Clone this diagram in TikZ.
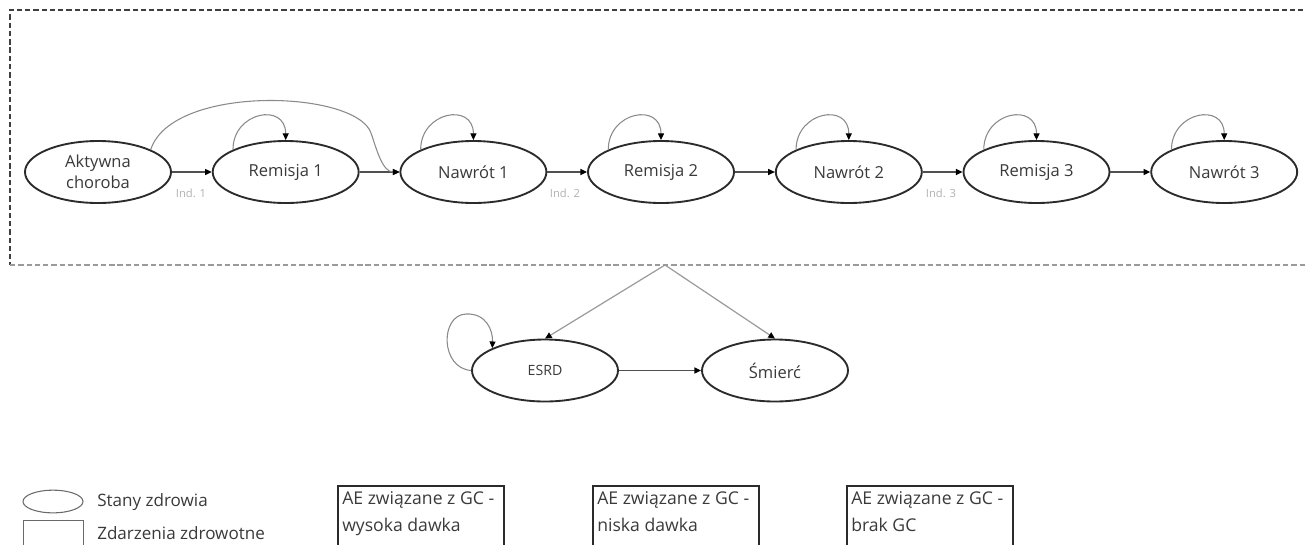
\documentclass[tikz,border=0pt]{standalone}
\usepackage{fontspec}
\setmainfont{Open Sans}
\usetikzlibrary{shapes.geometric,arrows.meta}
\definecolor{ink}{HTML}{2B2B2B}
\definecolor{txt}{HTML}{3A3A3A}
\definecolor{flowc}{HTML}{505050}
\definecolor{loopc}{HTML}{8A8A8A}
\definecolor{diagc}{HTML}{9A9A9A}
\definecolor{indc}{HTML}{B0B0B0}
\definecolor{legc}{HTML}{6A6A6A}
\newcommand\stfont{\fontsize{12.4}{16.5}\selectfont}
\newcommand\smallstfont{\fontsize{10.6}{12}\selectfont}
\newcommand\bxfont{\fontsize{13.2}{20.25}\selectfont}
\newcommand\lgfont{\fontsize{12.8}{15}\selectfont}
\newcommand\indfont{\fontsize{8.4}{10}\selectfont}
\begin{document}
\begin{tikzpicture}[x=0.75pt,y=-0.75pt,
  state/.style={ellipse,draw=ink,line width=1.4pt,fill=white,minimum width=109.5pt,minimum height=46.5pt,inner sep=0pt,text=txt,font=\stfont,align=center},
  tip/.style={-{Triangle[length=5pt,width=4.5pt,color=black]}},
  flow/.style={draw=flowc,line width=0.9pt,tip},
  selfloop/.style={draw=loopc,line width=0.8pt,tip},
  bigarc/.style={draw=loopc,line width=0.8pt,tip},
  diag/.style={draw=diagc,line width=0.9pt,tip},
  indl/.style={font=\indfont,text=indc,inner sep=0pt},
  evbox/.style={draw=ink,line width=1.2pt,anchor=north west,minimum width=124.5pt,minimum height=60pt,inner sep=0pt},
  evtext/.style={anchor=north west,inner sep=0pt,align=left,font=\bxfont,text=txt},
  lgtext/.style={anchor=west,inner sep=0pt,font=\lgfont,text=txt},
  frametop/.style={draw=ink!90,line width=1pt,dash pattern=on 4pt off 2.2pt},
  framebot/.style={draw=diagc,line width=1pt,dash pattern=on 4pt off 2.2pt}
]
\useasboundingbox (0,0) rectangle (1306,544);
\clip (0,0) rectangle (1306,544);

% dashed frame
\coordinate (ftr) at (1320,10);
\coordinate (ftl) at (10,10);
\coordinate (fbl) at (10,265);
\coordinate (fbr) at (1320,265);
\coordinate (apex) at (665,265);
\draw[frametop] (ftr) -- (ftl) -- (fbl);
\draw[framebot] (fbl) -- (fbr);

% states
\node[state] (ak) at (98,172) {Aktywna\\[-1pt]choroba};
\node[state] (r1) at (285.7,172) {Remisja 1};
\node[state] (n1) at (473.4,172) {Nawrót 1};
\node[state] (r2) at (661,172) {Remisja 2};
\node[state] (n2) at (848.8,172) {Nawrót 2};
\node[state] (r3) at (1036.5,172) {Remisja 3};
\node[state] (n3) at (1224.2,172) {Nawrót 3};

% horizontal transitions
\draw[flow] (ak.east) -- (r1.west);
\draw[flow] (r1.east) -- (n1.west);
\draw[flow] (n1.east) -- (r2.west);
\draw[flow] (r2.east) -- (n2.west);
\draw[flow] (n2.east) -- (r3.west);
\draw[flow] (r3.east) -- (n3.west);

% self loops
\foreach \n in {r1,n1,r2,n2,r3,n3}{
  \draw[selfloop] (\n.157) .. controls +(0,-38) and +(0,-38) .. (\n.north);
}

% long arc Aktywna -> Nawrot 1
\draw[bigarc] (ak.23) .. controls (172,84) and (356,90) .. (371,133) .. controls (376,147) and (382,172) .. (n1.west);

% Ind labels
\node[indl] (i1) at (191,193) {Ind. 1};
\node[indl] (i2) at (565,193) {Ind. 2};
\node[indl] (i3) at (941,193) {Ind. 3};

% lower states
\node[state,font=\smallstfont] (esrd) at (545,370.5) {ESRD};
\node[state] (sm) at (775,370.5) {Śmierć};
\draw[diag] (apex) -- (esrd.north);
\draw[diag] (apex) -- (sm.north);
\draw[flow] (esrd.east) -- (sm.west);
\draw[selfloop] (esrd.west) .. controls (440,368) and (440,315) .. (466,314) .. controls (486,313) and (493,330) .. (esrd.157);

% legend
\node[ellipse,draw=legc,line width=0.8pt,minimum width=45pt,minimum height=17pt,inner sep=0pt] (lge) at (53,501.5) {};
\node[lgtext] (lget) at (97,502) {Stany zdrowia};
\node[draw=legc,line width=0.8pt,anchor=north west,minimum width=45pt,minimum height=30pt,inner sep=0pt] (lgr) at (23,520) {};
\node[lgtext] (lgrt) at (97,533) {Zdarzenia zdrowotne};

% event boxes
\node[evbox] (b1) at (337,485) {};
\node[evtext] (b1t) at (342,491) {AE związane z GC -\\wysoka dawka};
\node[evbox] (b2) at (592,485) {};
\node[evtext] (b2t) at (597,491) {AE związane z GC -\\niska dawka};
\node[evbox] (b3) at (846,485) {};
\node[evtext] (b3t) at (851,491) {AE związane z GC -\\brak GC};
\end{tikzpicture}
\end{document}
